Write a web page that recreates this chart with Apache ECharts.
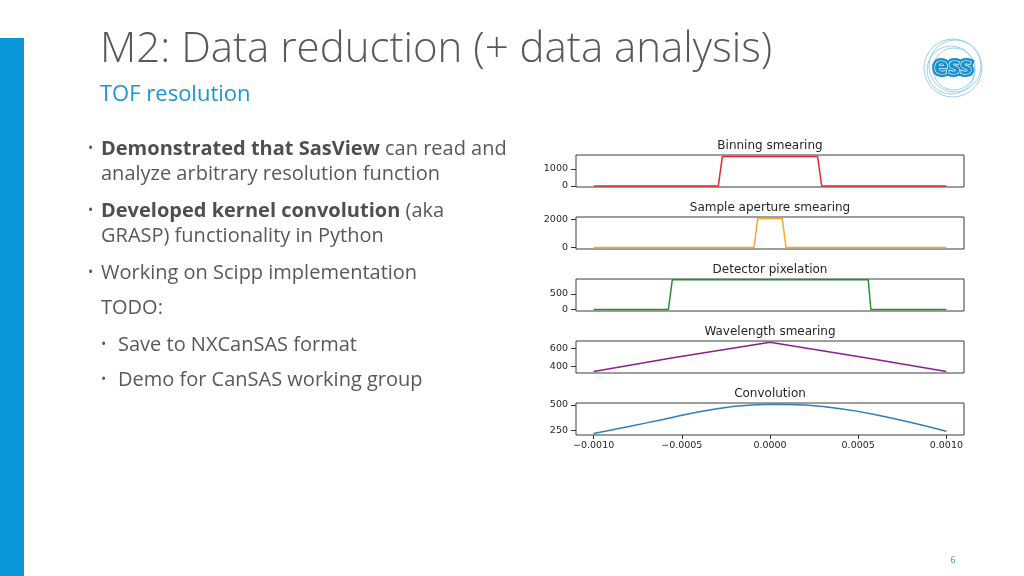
<!DOCTYPE html>
<html>
<head>
<meta charset="utf-8">
<script src="https://cdn.jsdelivr.net/npm/echarts@6/dist/echarts.min.js"></script>
<style>
html,body{margin:0;padding:0;background:#fff;}
#c{width:1024px;height:576px;}
</style>
</head>
<body>
<div id="c"></div>
<script>
// ---- data ----
const panelTitles = ['Binning smearing', 'Sample aperture smearing', 'Detector pixelation', 'Wavelength smearing', 'Convolution'];
const xTicks = [-0.001, -0.0005, 0, 0.0005, 0.001];

const binningX = [-0.001, -0.000293, -0.00027, 0.00027, 0.000293, 0.001];
const binningY = [0, 0, 1720, 1720, 0, 0];

const apertureX = [-0.001, -0.0000907, -0.0000697, 0.0000697, 0.0000907, 0.001];
const apertureY = [0, 0, 2050, 2050, 0, 0];

const pixelX = [-0.001, -0.000576, -0.000554, 0.000557, 0.000572, 0.001];
const pixelY = [0, 0, 945, 945, 0, 0];

const wavelengthX = [-0.001, -0.00055, 0, 0.00055, 0.001];
const wavelengthY = [344, 498, 672, 494, 344];

const convX = [-0.001, -0.0009, -0.0008, -0.0007, -0.0006, -0.0005, -0.0004, -0.0003, -0.0002, -0.0001, 0,
               0.0001, 0.0002, 0.0003, 0.0004, 0.0005, 0.0006, 0.0007, 0.0008, 0.0009, 0.001];
const convY = [218, 252, 287, 323, 360, 398, 434, 464, 487, 501, 507,
               506, 499, 485, 464, 437, 404, 366, 326, 284, 240];

const yTicks = [[0, 1000], [0, 2000], [0, 500], [400, 600], [250, 500]];
const yRange = [[-60, 1805], [-100, 2165], [-48, 970], [327, 686], [203, 520]];
const xRange = [-0.0011, 0.0011];

const seriesX = [binningX, apertureX, pixelX, wavelengthX, convX];
const seriesY = [binningY, apertureY, pixelY, wavelengthY, convY];
const colors = ['#e8262b', '#f7a928', '#22942a', '#8c1f8f', '#2f7fb8'];

const bulletLines = [
  {bullet: true, rich: '{b|Demonstrated that SasView} can read and', y: 156},
  {bullet: false, rich: 'analyze arbitrary resolution function', y: 181},
  {bullet: true, rich: '{b|Developed kernel convolution} (aka', y: 218},
  {bullet: false, rich: 'GRASP) functionality in Python', y: 243},
  {bullet: true, rich: 'Working on Scipp implementation', y: 280},
  {bullet: false, rich: 'TODO:', y: 315},
  {bullet: true, rich: 'Save to NXCanSAS format', y: 352, sub: true},
  {bullet: true, rich: 'Demo for CanSAS working group', y: 387, sub: true}
];

// ---- layout ----
const gridLeft = 576, gridWidth = 388, gridHeight = 32;
const gridTops = [155, 217, 279, 341, 403];
const MINUS = '\u2212';
const textGrey = '#595959';
const slideFont = '"Open Sans", "Noto Sans", sans-serif';
const plotFont = '"DejaVu Sans", sans-serif';

const grids = [], xAxes = [], yAxes = [], series = [], graphics = [];

for (let i = 0; i < 5; i++) {
  grids.push({left: gridLeft, top: gridTops[i], width: gridWidth, height: gridHeight,
    show: true, borderColor: '#3c3c3c', borderWidth: 1, backgroundColor: '#fff',
    outerBoundsMode: 'none', containLabel: false});
  const last = i === 4;
  xAxes.push({type: 'value', gridIndex: i, min: xRange[0], max: xRange[1], position: 'bottom',
    axisLine: {show: false, onZero: false}, splitLine: {show: false},
    axisTick: {show: last, customValues: xTicks, length: 4, lineStyle: {color: '#333'}},
    axisLabel: {show: last, customValues: xTicks, margin: 6, fontSize: 9.5, fontFamily: plotFont, color: '#262626',
      formatter: v => (v < 0 ? MINUS : '') + Math.abs(v).toFixed(4)}});
  yAxes.push({type: 'value', gridIndex: i, min: yRange[i][0], max: yRange[i][1], position: 'left',
    axisLine: {show: false, onZero: false}, splitLine: {show: false},
    axisTick: {show: true, customValues: yTicks[i], length: 5, lineStyle: {color: '#333'}},
    axisLabel: {customValues: yTicks[i], margin: 8, fontSize: 9.5, fontFamily: plotFont, color: '#262626',
      formatter: v => String(v)}});
  series.push({type: 'line', xAxisIndex: i, yAxisIndex: i, showSymbol: false, symbol: 'none',
    data: seriesX[i].map((x, k) => [x, seriesY[i][k]]),
    lineStyle: {color: colors[i], width: 1.5}, itemStyle: {color: colors[i]}, animation: false});
  graphics.push({type: 'text', z: 10,
    style: {text: panelTitles[i], x: gridLeft + gridWidth / 2, y: gridTops[i] - 9,
      textAlign: 'center', textVerticalAlign: 'middle', font: '12px ' + plotFont, fill: '#262626'}});
}

// slide decorations
graphics.push({type: 'rect', shape: {x: 0, y: 38, width: 24, height: 538}, style: {fill: '#0a97d9'}});
graphics.push({type: 'text', style: {text: 'M2: Data reduction (+ data analysis)', x: 100, y: 50,
  textVerticalAlign: 'middle', font: '300 42px ' + slideFont, fill: textGrey}});
graphics.push({type: 'text', style: {text: 'TOF resolution', x: 100, y: 95,
  textVerticalAlign: 'middle', font: '22px ' + slideFont, fill: '#1a96d4'}});

bulletLines.forEach(l => {
  const size = 20;
  if (l.bullet) {
    graphics.push({type: 'text', style: {text: '•', x: l.sub ? 101 : 88, y: l.y - 7,
      textVerticalAlign: 'middle', font: '14px ' + slideFont, fill: textGrey}});
  }
  graphics.push({type: 'text', style: {text: l.rich, x: l.sub ? 118 : 101, y: l.y - 7,
    textVerticalAlign: 'middle', font: size + 'px ' + slideFont, fill: textGrey,
    rich: {b: {fontWeight: 'bold', fontSize: size, fontFamily: slideFont, fill: '#4f4f4f'}}}});
});

// ESS logo
const lc = [953, 68];
[[29, 0, 0], [26, 2, -2], [24, -2, 2], [21, 1, 1]].forEach(r => {
  graphics.push({type: 'circle', shape: {cx: lc[0] + r[1], cy: lc[1] + r[2], r: r[0]},
    style: {fill: 'none', stroke: '#8fcbe9', lineWidth: 0.9}});
});
graphics.push({type: 'text', style: {text: 'ess', x: lc[0], y: lc[1] - 1, textAlign: 'center', textVerticalAlign: 'middle',
  font: 'bold 24px "Open Sans", sans-serif', fill: '#1a8fd0', stroke: '#1a8fd0', lineWidth: 6}});
graphics.push({type: 'text', style: {text: 'ess', x: lc[0], y: lc[1] - 1, textAlign: 'center', textVerticalAlign: 'middle',
  font: 'bold 24px "Open Sans", sans-serif', fill: '#1a8fd0', stroke: '#ffffff', lineWidth: 1.2}});

graphics.push({type: 'text', style: {text: '6', x: 953, y: 560, textAlign: 'center', textVerticalAlign: 'middle',
  font: '9px ' + slideFont, fill: '#1a96d4'}});

const chart = echarts.init(document.getElementById('c'), null, {renderer: 'canvas'});
chart.setOption({
  animation: false,
  backgroundColor: '#ffffff',
  grid: grids, xAxis: xAxes, yAxis: yAxes, series: series,
  graphic: graphics
});
</script>
</body>
</html>
